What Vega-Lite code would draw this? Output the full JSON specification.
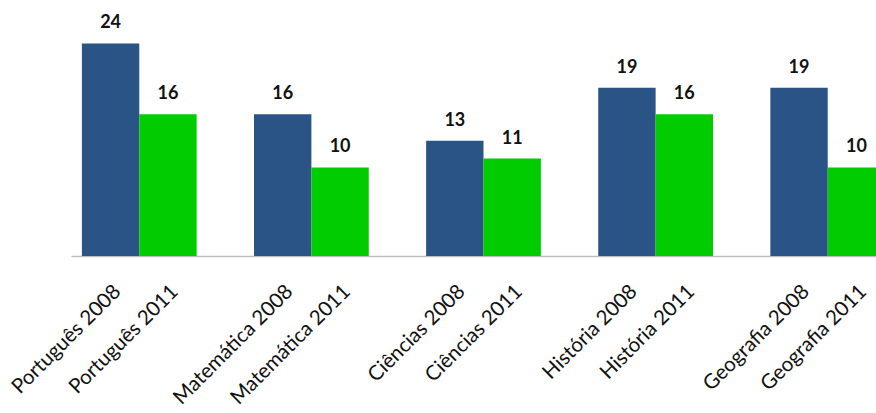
{
  "$schema": "https://vega.github.io/schema/vega-lite/v6.json",
  "width": 805,
  "height": 248,
  "autosize": {"type": "none"},
  "padding": {"left": 71, "top": 8, "right": 0, "bottom": 157},
  "config": {"view": {"stroke": null}, "font": "Lato"},
  "data": {
    "values": [
      {"label": "Português 2008", "year": "2008", "value": 24},
      {"label": "Português 2011", "year": "2011", "value": 16},
      {"label": "Matemática 2008", "year": "2008", "value": 16},
      {"label": "Matemática 2011", "year": "2011", "value": 10},
      {"label": "Ciências 2008", "year": "2008", "value": 13},
      {"label": "Ciências 2011", "year": "2011", "value": 11},
      {"label": "História 2008", "year": "2008", "value": 19},
      {"label": "História 2011", "year": "2011", "value": 16},
      {"label": "Geografia 2008", "year": "2008", "value": 19},
      {"label": "Geografia 2011", "year": "2011", "value": 10}
    ]
  },
  "encoding": {
    "x": {
      "field": "label",
      "type": "nominal",
      "sort": null,
      "scale": {
        "domain": ["Português 2008", "Português 2011", " ", "Matemática 2008", "Matemática 2011", "  ", "Ciências 2008", "Ciências 2011", "   ", "História 2008", "História 2011", "    ", "Geografia 2008", "Geografia 2011"],
        "range": [0, 825],
        "paddingInner": 0,
        "paddingOuter": 0.19
      },
      "axis": {
        "title": null,
        "labelAngle": -45,
        "labelFontSize": 20.5,
        "labelFont": "Lato",
        "labelColor": "#111111",
        "labelOverlap": false,
        "labelPadding": 25,
        "labelDx": -6,
        "ticks": false,
        "domainColor": "#bfbfbf",
        "domainWidth": 1.5
      }
    },
    "y": {
      "field": "value",
      "type": "quantitative",
      "scale": {"domain": [0, 28]},
      "axis": null
    }
  },
  "layer": [
    {
      "mark": {"type": "bar"},
      "encoding": {
        "color": {
          "field": "year",
          "type": "nominal",
          "scale": {"domain": ["2008", "2011"], "range": ["#2a5386", "#00cc00"]},
          "legend": null
        }
      }
    },
    {
      "mark": {"type": "text", "dy": -15, "baseline": "alphabetic", "fontWeight": "bold", "fontSize": 18, "color": "#111111", "font": "Lato"},
      "encoding": {"text": {"field": "value", "type": "quantitative"}}
    }
  ]
}
